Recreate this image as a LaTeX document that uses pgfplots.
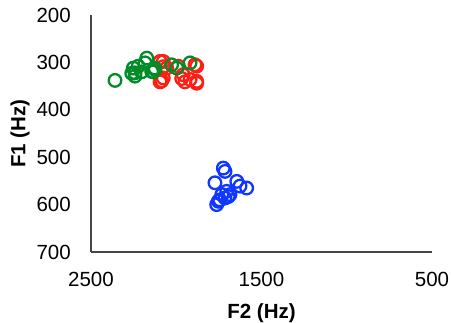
\documentclass[border=0pt]{standalone}
\usepackage{pgfplots}
\pgfplotsset{compat=1.18}
\usepackage{fontspec}
\setmainfont{Liberation Sans}
\definecolor{cgreen}{RGB}{0,140,40}
\definecolor{cred}{RGB}{255,30,20}
\definecolor{cblue}{RGB}{15,55,255}
\definecolor{caxis}{RGB}{70,70,70}
\begin{document}
\begin{tikzpicture}
\useasboundingbox (-91pt,-71pt) rectangle (361pt,252pt);
\begin{axis}[
  scale only axis,
  width=341pt, height=237pt,
  xmin=500, xmax=2500, ymin=200, ymax=700,
  x dir=reverse, y dir=reverse,
  axis x line=bottom, axis y line=left,
  axis line style={-, caxis, line width=1.4pt},
  xtick={500,1500,2500}, ytick={200,300,400,500,600,700},
  major tick length=0pt,
  tick label style={font=\fontsize{20.5}{24}\selectfont, inner sep=0pt},
  yticklabel style={anchor=east, xshift=-20pt},
  xticklabel style={anchor=north, yshift=-20pt},
  /pgf/number format/assume math mode=true,
  /pgf/number format/1000 sep={},
  xlabel={F2 (Hz)}, ylabel={F1 (Hz)},
  label style={font=\fontsize{20.5}{24}\selectfont\bfseries, inner sep=0pt},
  xlabel style={at={(axis description cs:0.5,-0.215)}, anchor=north},
  ylabel style={at={(axis description cs:-0.208,0.5)}, anchor=center, rotate=0},
  clip=false,
  every axis plot/.append style={only marks, mark=o, mark size=6.3pt, line width=2.3pt},
]
\addplot[cred] coordinates {
(2076,298) (2056,312) (2076,333) (2085,339) (1959,326) (1919,336) (1880,340)
(1880,308) (1988,308) (2095,298) (2076,309) (1968,334) (1949,341) (1890,305)
(1880,344) (2095,341)
};
\addplot[cgreen] coordinates {
(2359,338) (2252,312) (2242,322) (2223,308) (2173,291) (2183,301) (2144,319)
(2125,315) (2203,320) (2125,312) (2027,305) (1997,312) (1919,301) (2261,323)
(2242,329) (2135,320)
};
\addplot[cblue] coordinates {
(1724,523) (1714,530) (1773,554) (1645,551) (1587,565) (1626,561) (1753,593)
(1763,600) (1714,586) (1685,579) (1704,572) (1733,579) (1695,583) (1745,590)
};
\end{axis}
\end{tikzpicture}
\end{document}
